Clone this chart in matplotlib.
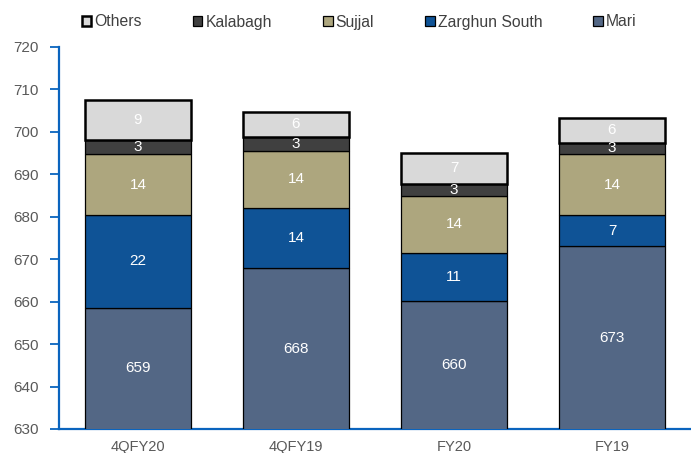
import matplotlib.pyplot as plt
import numpy as np

# === DATA ===
categories = ["4QFY20", "4QFY19", "FY20", "FY19"]
mari = [658.6, 667.9, 660.2, 673.0]
zarghun = [21.8, 14.2, 11.2, 7.4]
sujjal = [14.3, 13.5, 13.6, 14.4]
kalabagh = [3.3, 3.3, 2.7, 2.7]
others = [9.4, 5.9, 7.4, 5.7]

series = [
    ("Mari", mari, "#536785"),
    ("Zarghun South", zarghun, "#0F5396"),
    ("Sujjal", sujjal, "#ADA67E"),
    ("Kalabagh", kalabagh, "#404040"),
    ("Others", others, "#D9D9D9"),
]

plt.rcParams['font.family'] = ['Liberation Sans', 'DejaVu Sans']
AXIS_BLUE = "#0A64BE"
Y_MIN, Y_MAX = 630, 720

fig = plt.figure(figsize=(6.91, 4.53), dpi=100)
ax = fig.add_axes([59 / 691, 24 / 453, 632 / 691, 382 / 453])

x = np.arange(len(categories))
bottom = np.zeros(len(categories))
handles = {}
for name, vals, color in series:
    vals = np.array(vals)
    lw = 1.8 if name == "Others" else 0.9
    bars = ax.bar(x, vals, width=0.67, bottom=bottom, color=color,
                  edgecolor="black", linewidth=lw, label=name, zorder=3)
    handles[name] = bars
    for xi, b, v in zip(x, bottom, vals):
        # label sits in the middle of the visible part of the segment
        lo = max(b, Y_MIN)
        ax.text(xi, (lo + b + v) / 2, f"{v:.0f}", ha="center", va="center",
                color="white", fontsize=11, zorder=4)
    bottom = bottom + vals

ax.set_ylim(Y_MIN, Y_MAX)
ax.set_xlim(-0.5, 3.5)
ax.set_yticks(np.arange(Y_MIN, Y_MAX + 1, 10))
ax.set_xticks(x)
ax.set_xticklabels(categories)

for s in ["top", "right"]:
    ax.spines[s].set_visible(False)
for s in ["left", "bottom"]:
    ax.spines[s].set_color(AXIS_BLUE)
    ax.spines[s].set_linewidth(1.6)
ax.tick_params(axis="y", colors=AXIS_BLUE, length=6.5, width=1.3,
               labelcolor="#595959", labelsize=11, pad=8)
ax.tick_params(axis="x", length=0, labelcolor="#595959", labelsize=10.5, pad=8)

order = ["Others", "Kalabagh", "Sujjal", "Zarghun South", "Mari"]
leg = fig.legend([handles[n] for n in order], order, loc="center left",
                 bbox_to_anchor=(82 / 691, 1 - 22 / 453), ncol=5, frameon=False,
                 fontsize=11.3, handlelength=0.6, handleheight=0.6,
                 handletextpad=0.2, columnspacing=3.25, borderaxespad=0,
                 borderpad=0)
for t in leg.get_texts():
    t.set_color("#404040")

fig.savefig("out.png", dpi=100)
